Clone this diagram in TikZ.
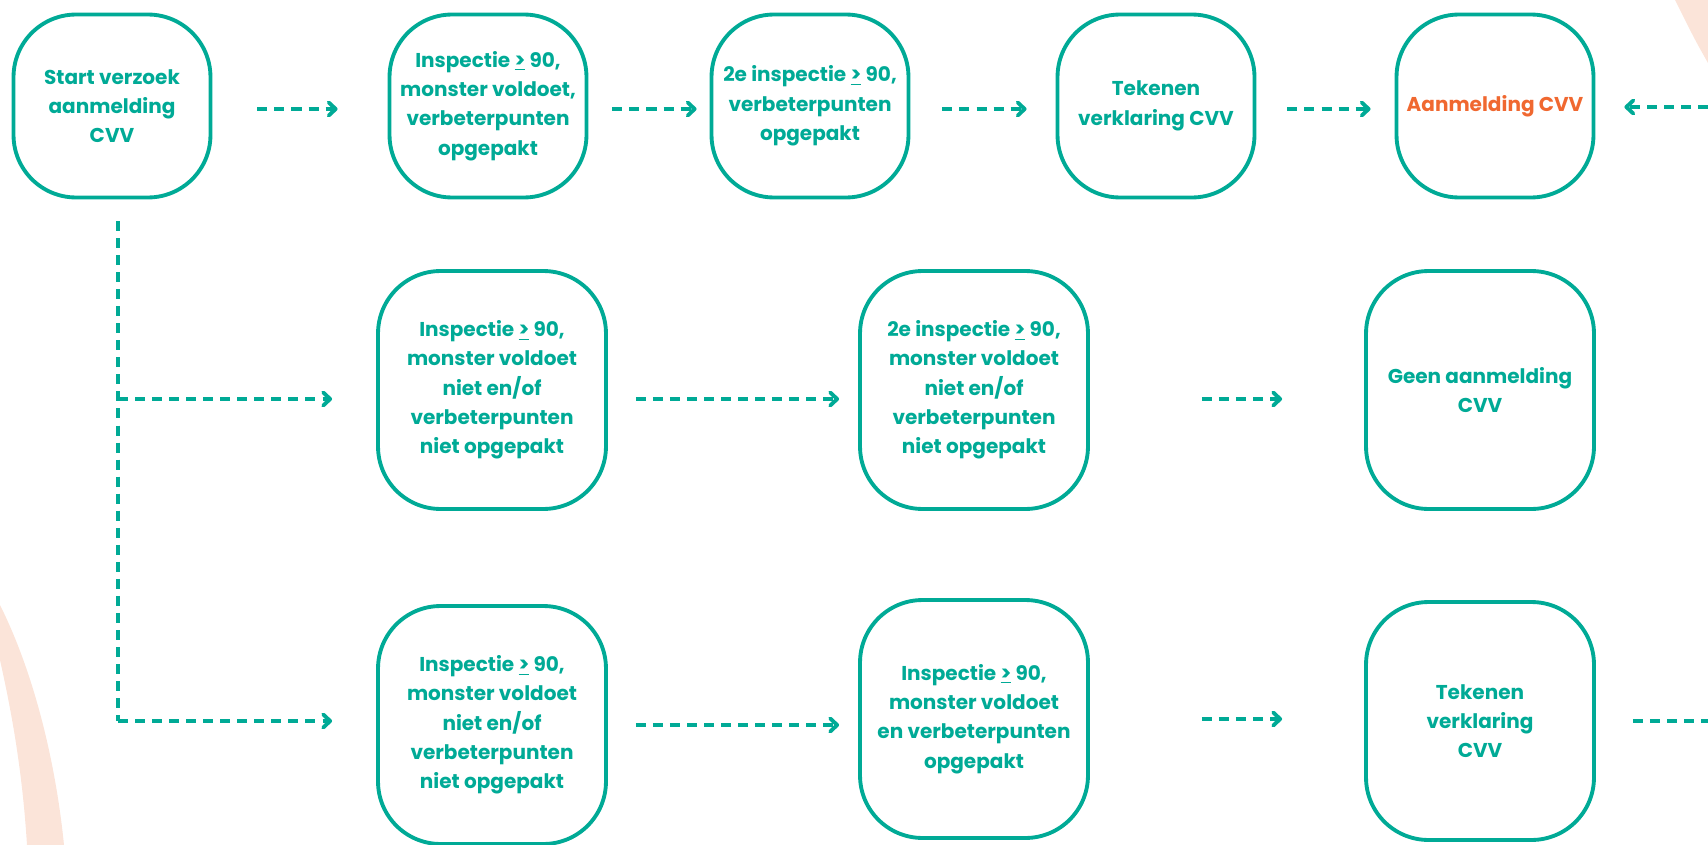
\documentclass[tikz,border=0pt]{standalone}
\usepackage{fontspec}
\setmainfont{Poppins}
\usetikzlibrary{arrows.meta}
\definecolor{cvvgreen}{RGB}{0,170,150}
\definecolor{cvvorange}{RGB}{240,104,48}
\definecolor{cvvpeach}{RGB}{251,228,217}
\tikzset{
  stage/.style={draw=cvvgreen, line width=2.2pt, rounded corners=1.25cm,
    text=cvvgreen, align=center, inner sep=0pt,
    font=\bfseries\fontsize{11.4}{16.7}\selectfont},
  small/.style={stage, minimum width=3.94cm, minimum height=3.66cm},
  large/.style={stage, minimum width=4.56cm, minimum height=4.76cm},
  link/.style={draw=cvvgreen, line width=2.2pt, dash pattern=on 5.7pt off 4pt,
    -{Straight Barb[round, length=4pt, width=7.5pt]}},
}
\newcommand{\atleast}{\underline{>}}
\begin{document}
\begin{tikzpicture}[x=0.02cm, y=-0.02cm]
    \useasboundingbox (0,0) rectangle (1708,845);
    %% background bands
    \fill[cvvpeach] (1675,0) -- (1708,0) -- (1708,63) .. controls (1695,40) .. cycle;
    \fill[cvvpeach] (0,605) .. controls (35,675) and (56,765) .. (64,845)
        -- (27,845) .. controls (22,765) and (10,705) .. (0,660) -- cycle;
    %% top row
    \node[small] (start) at (112,106) {Start verzoek\\aanmelding\\CVV};
    \node[small] (insp) at (488,106) {Inspectie \atleast{} 90,\\monster voldoet,\\verbeterpunten\\opgepakt};
    \node[small] (insptwo) at (810,106) {2e inspectie \atleast{} 90,\\verbeterpunten\\opgepakt};
    \node[small] (sign) at (1156,106) {Tekenen\\verklaring CVV};
    \node[small, text=cvvorange] (reg) at (1495,106) {Aanmelding CVV};
    %% middle row
    \node[large] (fail) at (492,390) {Inspectie \atleast{} 90,\\monster voldoet\\niet en/of\\verbeterpunten\\niet opgepakt};
    \node[large] (failtwo) at (974,390) {2e inspectie \atleast{} 90,\\monster voldoet\\niet en/of\\verbeterpunten\\niet opgepakt};
    \node[large] (noreg) at (1480,390) {Geen aanmelding\\CVV};
    %% bottom row
    \node[large] (failb) at (492,725) {Inspectie \atleast{} 90,\\monster voldoet\\niet en/of\\verbeterpunten\\niet opgepakt};
    \node[large] (pass) at (974,719) {Inspectie \atleast{} 90,\\monster voldoet\\en verbeterpunten\\opgepakt};
    \node[large] (signb) at (1480,721) {Tekenen\\verklaring\\CVV};
    %% free ends
    \coordinate (split) at (118,221);
    \coordinate (midsplit) at (118,399);
    \coordinate (corner) at (118,721);
    \coordinate (inend) at (1708,107);
    \coordinate (outend) at (1708,721);
    %% top arrows
    \draw[link, shorten <=0.9cm, shorten >=1cm] ([yshift=-0.06cm]start.east) -- ([yshift=-0.06cm]insp.west);
    \draw[link, shorten <=0.48cm, shorten >=0.26cm] ([yshift=-0.06cm]insp.east) -- ([yshift=-0.06cm]insptwo.west);
    \draw[link, shorten <=0.64cm, shorten >=0.58cm] ([yshift=-0.06cm]insptwo.east) -- ([yshift=-0.06cm]sign.west);
    \draw[link, shorten <=0.62cm, shorten >=0.48cm] ([yshift=-0.06cm]sign.east) -- ([yshift=-0.06cm]reg.west);
    \draw[link, shorten >=0.58cm] (inend) -- (inend -| reg.east);
    %% branches
    \draw[link, -, line cap=butt] (split) -- (corner);
    \draw[link, shorten >=0.88cm] (midsplit) -- (midsplit -| fail.west);
    \draw[link, shorten >=0.88cm] (corner) -- (corner -| failb.west);
    %% middle arrows
    \draw[link, shorten <=0.56cm, shorten >=0.38cm] ([yshift=-0.18cm]fail.east) -- ([yshift=-0.18cm]failtwo.west);
    \draw[link, shorten <=2.24cm, shorten >=1.64cm] ([yshift=-0.18cm]failtwo.east) -- ([yshift=-0.18cm]noreg.west);
    %% bottom arrows
    \draw[link, shorten <=0.56cm, shorten >=0.38cm] (failb.east) -- (failb.east -| pass.west);
    \draw[link, shorten <=2.24cm, shorten >=1.64cm] (pass.east) -- (pass.east -| signb.west);
    \draw[link, -, shorten <=0.74cm] (signb.east) -- (outend);
\end{tikzpicture}
\end{document}
